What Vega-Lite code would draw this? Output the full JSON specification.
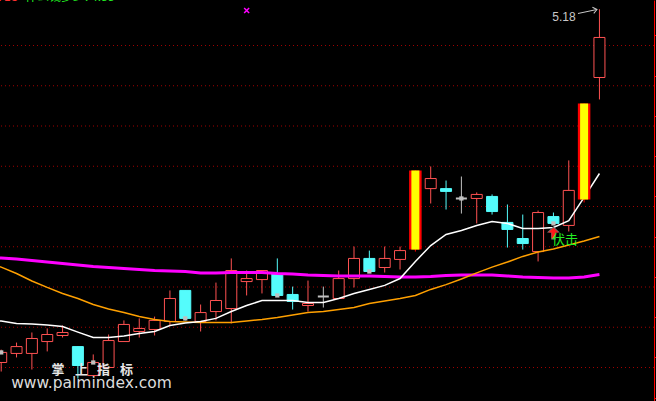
{
  "$schema": "https://vega.github.io/schema/vega-lite/v6.json",
  "width": 654,
  "height": 401,
  "autosize": {"type": "none"},
  "padding": {"left": 0, "top": 0, "right": 2, "bottom": 0},
  "background": "#000000",
  "config": {"view": {"stroke": null}, "axis": {"title": null, "labels": false}, "axisX": {"disable": true}, "scale": {"continuousPadding": 0}},
  "datasets": {
    "k": [
      {"i":0,"m1":3.639,"m2":3.922,"m3":3.949},
      {"i":1,"o":3.425,"h":3.489,"l":3.380,"c":3.475,"kind":"up","m1":3.631,"m2":3.899,"m3":3.944},
      {"i":2,"o":3.470,"h":3.524,"l":3.450,"c":3.504,"kind":"up","m1":3.619,"m2":3.867,"m3":3.939},
      {"i":3,"o":3.470,"h":3.574,"l":3.390,"c":3.544,"kind":"up","m1":3.616,"m2":3.830,"m3":3.932},
      {"i":4,"o":3.529,"h":3.594,"l":3.480,"c":3.564,"kind":"up","m1":3.611,"m2":3.798,"m3":3.924},
      {"i":5,"o":3.559,"h":3.609,"l":3.549,"c":3.574,"kind":"up","m1":3.604,"m2":3.768,"m3":3.917},
      {"i":6,"o":3.504,"h":3.504,"l":3.345,"c":3.410,"kind":"down","m1":3.576,"m2":3.743,"m3":3.909},
      {"i":7,"o":3.360,"h":3.465,"l":3.355,"c":3.425,"kind":"up","m1":3.549,"m2":3.713,"m3":3.902},
      {"i":8,"o":3.400,"h":3.564,"l":3.400,"c":3.534,"kind":"up","m1":3.549,"m2":3.691,"m3":3.897},
      {"i":9,"o":3.529,"h":3.634,"l":3.529,"c":3.614,"kind":"up","m1":3.557,"m2":3.673,"m3":3.892},
      {"i":10,"o":3.579,"h":3.644,"l":3.549,"c":3.594,"kind":"up","m1":3.569,"m2":3.653,"m3":3.887},
      {"i":11,"o":3.589,"h":3.653,"l":3.559,"c":3.634,"kind":"up","m1":3.579,"m2":3.639,"m3":3.882},
      {"i":12,"o":3.629,"h":3.783,"l":3.609,"c":3.743,"kind":"up","m1":3.609,"m2":3.629,"m3":3.880},
      {"i":13,"o":3.783,"h":3.783,"l":3.634,"c":3.644,"kind":"down","m1":3.621,"m2":3.626,"m3":3.877},
      {"i":14,"o":3.629,"h":3.713,"l":3.579,"c":3.673,"kind":"up","m1":3.629,"m2":3.624,"m3":3.870},
      {"i":15,"o":3.678,"h":3.822,"l":3.634,"c":3.733,"kind":"up","m1":3.644,"m2":3.624,"m3":3.870},
      {"i":16,"o":3.693,"h":3.942,"l":3.619,"c":3.882,"kind":"up","m1":3.678,"m2":3.624,"m3":3.872},
      {"i":17,"o":3.827,"h":3.882,"l":3.758,"c":3.842,"kind":"up","m1":3.708,"m2":3.631,"m3":3.872},
      {"i":18,"o":3.837,"h":3.882,"l":3.768,"c":3.882,"kind":"up","m1":3.733,"m2":3.639,"m3":3.872},
      {"i":19,"o":3.867,"h":3.942,"l":3.753,"c":3.758,"kind":"down","m1":3.733,"m2":3.649,"m3":3.867},
      {"i":20,"o":3.763,"h":3.802,"l":3.688,"c":3.728,"kind":"down","m1":3.733,"m2":3.661,"m3":3.865},
      {"i":21,"o":3.708,"h":3.832,"l":3.678,"c":3.718,"kind":"up","m1":3.723,"m2":3.673,"m3":3.860},
      {"i":22,"o":3.753,"h":3.802,"l":3.698,"c":3.753,"kind":"flat","m1":3.723,"m2":3.678,"m3":3.857},
      {"i":23,"o":3.743,"h":3.882,"l":3.743,"c":3.842,"kind":"up","m1":3.743,"m2":3.688,"m3":3.855},
      {"i":24,"o":3.842,"h":4.001,"l":3.798,"c":3.942,"kind":"up","m1":3.768,"m2":3.698,"m3":3.855},
      {"i":25,"o":3.942,"h":3.981,"l":3.872,"c":3.877,"kind":"down","m1":3.788,"m2":3.718,"m3":3.855},
      {"i":26,"o":3.897,"h":4.001,"l":3.872,"c":3.942,"kind":"up","m1":3.808,"m2":3.730,"m3":3.852},
      {"i":27,"o":3.937,"h":4.001,"l":3.887,"c":3.981,"kind":"up","m1":3.842,"m2":3.743,"m3":3.850},
      {"i":28,"o":3.986,"h":4.379,"l":3.976,"c":4.379,"kind":"limit","m1":3.927,"m2":3.758,"m3":3.850},
      {"i":29,"o":4.289,"h":4.399,"l":4.215,"c":4.339,"kind":"up","m1":4.006,"m2":3.788,"m3":3.852},
      {"i":30,"o":4.289,"h":4.329,"l":4.185,"c":4.275,"kind":"down","m1":4.061,"m2":3.812,"m3":3.857},
      {"i":31,"o":4.240,"h":4.349,"l":4.165,"c":4.240,"kind":"flat","m1":4.081,"m2":3.840,"m3":3.860},
      {"i":32,"o":4.240,"h":4.270,"l":4.116,"c":4.260,"kind":"up","m1":4.106,"m2":3.870,"m3":3.860},
      {"i":33,"o":4.250,"h":4.260,"l":4.160,"c":4.175,"kind":"down","m1":4.126,"m2":3.899,"m3":3.860},
      {"i":34,"o":4.121,"h":4.210,"l":3.996,"c":4.086,"kind":"down","m1":4.116,"m2":3.924,"m3":3.855},
      {"i":35,"o":4.041,"h":4.160,"l":3.986,"c":4.016,"kind":"down","m1":4.091,"m2":3.952,"m3":3.850},
      {"i":36,"o":3.976,"h":4.180,"l":3.927,"c":4.170,"kind":"up","m1":4.091,"m2":3.974,"m3":3.847},
      {"i":37,"o":4.150,"h":4.170,"l":4.111,"c":4.116,"kind":"down","m1":4.096,"m2":3.989,"m3":3.845},
      {"i":38,"o":4.106,"h":4.429,"l":4.076,"c":4.280,"kind":"up","m1":4.130,"m2":4.009,"m3":3.845},
      {"i":39,"o":4.235,"h":4.712,"l":4.220,"c":4.712,"kind":"limit","m1":4.245,"m2":4.029,"m3":3.850},
      {"i":40,"o":4.841,"h":5.180,"l":4.732,"c":5.040,"kind":"up","m1":4.364,"m2":4.051,"m3":3.862}
    ],
    "grid": [{"g":3.4},{"g":3.6},{"g":3.8},{"g":4.0},{"g":4.2},{"g":4.4},{"g":4.6},{"g":4.8},{"g":5.0}],
    "wm1": [{"t":"掌","x":4.703,"y":3.390},{"t":"上","x":6.235,"y":3.390},{"t":"指","x":7.669,"y":3.390},{"t":"标","x":9.168,"y":3.390}],
    "wm2": [{"t":"www.palmindex.com","x":6.887,"y":3.3006}],
    "lab": [{"t":"5.18","x":37.69,"y":5.144}],
    "sig": [{"t":"伏击","x":36.91,"y":4.034}],
    "hdr1": [{"t":"4.18","x":2.095,"y":5.2087}],
    "hdr2": [{"t":"什么钱多少: 4.88","x":2.551,"y":5.2087}],
    "arr": [{"x1":38.60,"y1":5.159,"x2":39.84,"y2":5.179}],
    "mk": [{"x":17,"y":5.174}],
    "upa": [{"x":37,"y":4.068}]
  },
  "layer": [
    {
      "data": {"name": "grid"},
      "mark": {"type": "rule", "color": "#a00000", "strokeWidth": 1, "strokeDash": [1, 3]},
      "encoding": {
        "y": {"field": "g", "type": "quantitative", "scale": {"domain": [3.2336, 5.2261], "nice": false, "zero": false, "padding": 0},
          "axis": {"orient": "right", "values": [3.25,3.3,3.35,3.4,3.45,3.5,3.55,3.6,3.65,3.7,3.75,3.8,3.85,3.9,3.95,4.0,4.05,4.1,4.15,4.2,4.25,4.3,4.35,4.4,4.45,4.5,4.55,4.6,4.65,4.7,4.75,4.8,4.85,4.9,4.95,5.0,5.05,5.1,5.15,5.2], "labels": false, "ticks": true, "tickSize": 3, "tickColor": "#ff0000", "domain": true, "domainColor": "#ff0000", "grid": false, "title": null}}
      }
    },
    {
      "data": {"name": "k"},
      "transform": [{"filter": "isValid(datum.kind)"}],
      "mark": {"type": "rule", "strokeWidth": 1},
      "encoding": {
        "x": {"field": "i", "type": "quantitative", "scale": {"domain": [0.9218, 43.556], "nice": false, "zero": false, "padding": 0}, "axis": null},
        "y": {"field": "l", "type": "quantitative", "scale": {"domain": [3.2336, 5.2261], "nice": false, "zero": false, "padding": 0}},
        "y2": {"field": "h"},
        "color": {"field": "kind", "type": "nominal", "scale": {"domain": ["up", "down", "flat", "limit"], "range": ["#ff5252", "#54fcfc", "#c0c0c0", "#ff0000"]}, "legend": null}
      }
    },
    {
      "data": {"name": "k"},
      "transform": [{"filter": "isValid(datum.kind) && datum.kind != 'limit'"}],
      "mark": {"type": "bar", "width": 11},
      "encoding": {
        "x": {"field": "i", "type": "quantitative", "scale": {"domain": [0.9218, 43.556], "nice": false, "zero": false, "padding": 0}, "axis": null},
        "y": {"field": "o", "type": "quantitative", "scale": {"domain": [3.2336, 5.2261], "nice": false, "zero": false, "padding": 0}},
        "y2": {"field": "c"},
        "fill": {"field": "kind", "type": "nominal", "scale": {"domain": ["up", "down", "flat", "limit"], "range": ["#000000", "#54fcfc", "#c0c0c0", "#ff0000"]}, "legend": null},
        "stroke": {"field": "kind", "type": "nominal", "scale": {"domain": ["up", "down", "flat", "limit"], "range": ["#ff5252", "#54fcfc", "#c0c0c0", "#ff0000"]}, "legend": null},
        "strokeWidth": {"condition": {"test": "datum.kind == 'flat'", "value": 2}, "value": 1}
      }
    },
    {
      "data": {"name": "k"},
      "mark": {"type": "line", "color": "#ff00ff", "strokeWidth": 3},
      "encoding": {
        "x": {"field": "i", "type": "quantitative", "scale": {"domain": [0.9218, 43.556], "nice": false, "zero": false, "padding": 0}, "axis": null},
        "y": {"field": "m3", "type": "quantitative", "scale": {"domain": [3.2336, 5.2261], "nice": false, "zero": false, "padding": 0}}
      }
    },
    {
      "data": {"name": "k"},
      "mark": {"type": "line", "color": "#ffa000", "strokeWidth": 1.5},
      "encoding": {
        "x": {"field": "i", "type": "quantitative", "scale": {"domain": [0.9218, 43.556], "nice": false, "zero": false, "padding": 0}, "axis": null},
        "y": {"field": "m2", "type": "quantitative", "scale": {"domain": [3.2336, 5.2261], "nice": false, "zero": false, "padding": 0}}
      }
    },
    {
      "data": {"name": "k"},
      "mark": {"type": "line", "color": "#ffffff", "strokeWidth": 1.5},
      "encoding": {
        "x": {"field": "i", "type": "quantitative", "scale": {"domain": [0.9218, 43.556], "nice": false, "zero": false, "padding": 0}, "axis": null},
        "y": {"field": "m1", "type": "quantitative", "scale": {"domain": [3.2336, 5.2261], "nice": false, "zero": false, "padding": 0}}
      }
    },
    {
      "data": {"name": "k"},
      "transform": [{"filter": "datum.kind == 'limit'"}],
      "mark": {"type": "bar", "width": 12.5, "color": "#ff0000"},
      "encoding": {
        "x": {"field": "i", "type": "quantitative", "scale": {"domain": [0.9218, 43.556], "nice": false, "zero": false, "padding": 0}, "axis": null},
        "y": {"field": "o", "type": "quantitative", "scale": {"domain": [3.2336, 5.2261], "nice": false, "zero": false, "padding": 0}},
        "y2": {"field": "c"}
      }
    },
    {
      "data": {"name": "k"},
      "transform": [{"filter": "datum.kind == 'limit'"}],
      "mark": {"type": "bar", "width": 8, "color": "#ffff00"},
      "encoding": {
        "x": {"field": "i", "type": "quantitative", "scale": {"domain": [0.9218, 43.556], "nice": false, "zero": false, "padding": 0}, "axis": null},
        "y": {"field": "o", "type": "quantitative", "scale": {"domain": [3.2336, 5.2261], "nice": false, "zero": false, "padding": 0}},
        "y2": {"field": "c"}
      }
    },
    {
      "data": {"name": "k"},
      "transform": [{"filter": {"field": "i", "oneOf": [1, 7, 13, 19, 25, 31, 37]}}],
      "mark": {"type": "point", "shape": "square", "filled": true, "size": 18, "color": "#c0c0c0", "opacity": 1},
      "encoding": {
        "x": {"field": "i", "type": "quantitative", "scale": {"domain": [0.9218, 43.556], "nice": false, "zero": false, "padding": 0}, "axis": null},
        "y": {"field": "c", "type": "quantitative", "scale": {"domain": [3.2336, 5.2261], "nice": false, "zero": false, "padding": 0}}
      }
    },
    {
      "data": {"name": "upa"},
      "mark": {"type": "point", "shape": "M0,-1L1,-0.1L0.35,-0.1L0.35,1L-0.35,1L-0.35,-0.1L-1,-0.1Z", "filled": true, "size": 170, "color": "#707070", "opacity": 1},
      "encoding": {
        "x": {"field": "x", "type": "quantitative", "scale": {"domain": [0.9218, 43.556], "nice": false, "zero": false, "padding": 0}, "axis": null},
        "y": {"field": "y", "type": "quantitative", "scale": {"domain": [3.2336, 5.2261], "nice": false, "zero": false, "padding": 0}}
      }
    },
    {
      "data": {"name": "upa"},
      "mark": {"type": "point", "shape": "M0,-1L1,-0.1L0.35,-0.1L0.35,1L-0.35,1L-0.35,-0.1L-1,-0.1Z", "filled": true, "size": 110, "color": "#ff1a1a", "opacity": 1},
      "encoding": {
        "x": {"field": "x", "type": "quantitative", "scale": {"domain": [0.9218, 43.556], "nice": false, "zero": false, "padding": 0}, "axis": null},
        "y": {"field": "y", "type": "quantitative", "scale": {"domain": [3.2336, 5.2261], "nice": false, "zero": false, "padding": 0}}
      }
    },
    {
      "data": {"name": "mk"},
      "mark": {"type": "point", "shape": "M-1,-1L1,1M-1,1L1,-1", "filled": false, "size": 25, "strokeWidth": 1.5, "color": "#ff00ff", "opacity": 1},
      "encoding": {
        "x": {"field": "x", "type": "quantitative", "scale": {"domain": [0.9218, 43.556], "nice": false, "zero": false, "padding": 0}, "axis": null},
        "y": {"field": "y", "type": "quantitative", "scale": {"domain": [3.2336, 5.2261], "nice": false, "zero": false, "padding": 0}}
      }
    },
    {
      "data": {"name": "arr"},
      "mark": {"type": "rule", "color": "#c8c8c8", "strokeWidth": 1},
      "encoding": {
        "x": {"field": "x1", "type": "quantitative", "scale": {"domain": [0.9218, 43.556], "nice": false, "zero": false, "padding": 0}, "axis": null},
        "y": {"field": "y1", "type": "quantitative", "scale": {"domain": [3.2336, 5.2261], "nice": false, "zero": false, "padding": 0}},
        "x2": {"field": "x2"},
        "y2": {"field": "y2"}
      }
    },
    {
      "data": {"name": "arr"},
      "mark": {"type": "point", "shape": "M-1,-0.8L0,0L-1,0.8", "filled": false, "size": 64, "strokeWidth": 1, "color": "#c8c8c8", "opacity": 1, "angle": 348},
      "encoding": {
        "x": {"field": "x2", "type": "quantitative", "scale": {"domain": [0.9218, 43.556], "nice": false, "zero": false, "padding": 0}, "axis": null},
        "y": {"field": "y2", "type": "quantitative", "scale": {"domain": [3.2336, 5.2261], "nice": false, "zero": false, "padding": 0}}
      }
    },
    {
      "data": {"name": "lab"},
      "mark": {"type": "text", "font": "Liberation Sans", "fontSize": 12, "color": "#c8c8c8", "align": "center", "baseline": "middle"},
      "encoding": {
        "x": {"field": "x", "type": "quantitative", "scale": {"domain": [0.9218, 43.556], "nice": false, "zero": false, "padding": 0}, "axis": null},
        "y": {"field": "y", "type": "quantitative", "scale": {"domain": [3.2336, 5.2261], "nice": false, "zero": false, "padding": 0}},
        "text": {"field": "t"}
      }
    },
    {
      "data": {"name": "sig"},
      "mark": {"type": "text", "font": "Noto Sans CJK SC", "fontSize": 13, "color": "#22ee22", "align": "left", "baseline": "middle"},
      "encoding": {
        "x": {"field": "x", "type": "quantitative", "scale": {"domain": [0.9218, 43.556], "nice": false, "zero": false, "padding": 0}, "axis": null},
        "y": {"field": "y", "type": "quantitative", "scale": {"domain": [3.2336, 5.2261], "nice": false, "zero": false, "padding": 0}},
        "text": {"field": "t"}
      }
    },
    {
      "data": {"name": "hdr1"},
      "mark": {"type": "text", "font": "DejaVu Sans Mono", "fontSize": 12, "color": "#ff3030", "align": "right", "baseline": "bottom"},
      "encoding": {
        "x": {"field": "x", "type": "quantitative", "scale": {"domain": [0.9218, 43.556], "nice": false, "zero": false, "padding": 0}, "axis": null},
        "y": {"field": "y", "type": "quantitative", "scale": {"domain": [3.2336, 5.2261], "nice": false, "zero": false, "padding": 0}},
        "text": {"field": "t"}
      }
    },
    {
      "data": {"name": "hdr2"},
      "mark": {"type": "text", "font": "Noto Sans CJK SC", "fontSize": 12, "color": "#22ee22", "align": "left", "baseline": "bottom"},
      "encoding": {
        "x": {"field": "x", "type": "quantitative", "scale": {"domain": [0.9218, 43.556], "nice": false, "zero": false, "padding": 0}, "axis": null},
        "y": {"field": "y", "type": "quantitative", "scale": {"domain": [3.2336, 5.2261], "nice": false, "zero": false, "padding": 0}},
        "text": {"field": "t"}
      }
    },
    {
      "data": {"name": "wm1"},
      "mark": {"type": "text", "font": "Noto Sans CJK SC", "fontSize": 13, "fontWeight": "bold", "color": "#e6e6e6", "align": "center", "baseline": "middle"},
      "encoding": {
        "x": {"field": "x", "type": "quantitative", "scale": {"domain": [0.9218, 43.556], "nice": false, "zero": false, "padding": 0}, "axis": null},
        "y": {"field": "y", "type": "quantitative", "scale": {"domain": [3.2336, 5.2261], "nice": false, "zero": false, "padding": 0}},
        "text": {"field": "t"}
      }
    },
    {
      "data": {"name": "wm2"},
      "mark": {"type": "text", "font": "DejaVu Sans", "fontSize": 15.5, "color": "#dcdcdc", "align": "center", "baseline": "alphabetic"},
      "encoding": {
        "x": {"field": "x", "type": "quantitative", "scale": {"domain": [0.9218, 43.556], "nice": false, "zero": false, "padding": 0}, "axis": null},
        "y": {"field": "y", "type": "quantitative", "scale": {"domain": [3.2336, 5.2261], "nice": false, "zero": false, "padding": 0}},
        "text": {"field": "t"}
      }
    }
  ]
}
